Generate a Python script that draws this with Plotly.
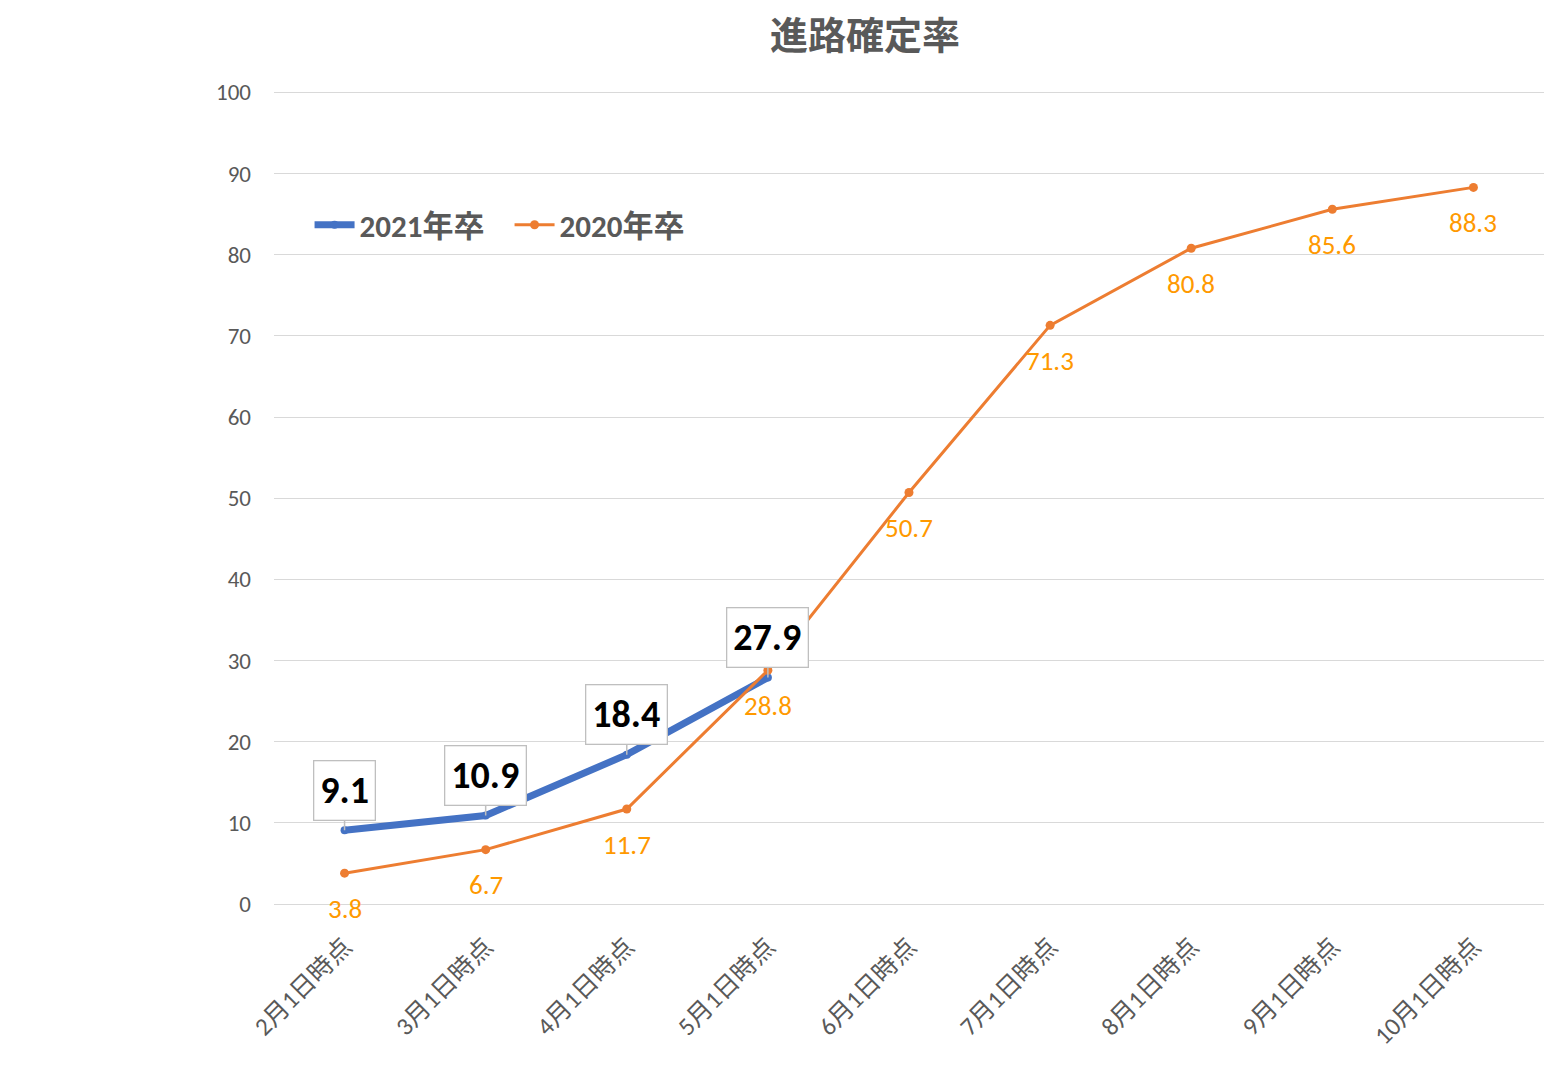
import plotly.graph_objects as go

categories = ["2月1日時点", "3月1日時点", "4月1日時点", "5月1日時点", "6月1日時点",
              "7月1日時点", "8月1日時点", "9月1日時点", "10月1日時点"]
values_2021 = [9.1, 10.9, 18.4, 27.9]
values_2020 = [3.8, 6.7, 11.7, 28.8, 50.7, 71.3, 80.8, 85.6, 88.3]
y_ticks = [0, 10, 20, 30, 40, 50, 60, 70, 80, 90, 100]

FONT = "Calibri, Carlito, Noto Sans CJK JP, sans-serif"
GRAY = "#595959"

fig = go.Figure()
fig.add_trace(go.Scatter(
    x=categories[:len(values_2021)], y=values_2021, name="2021年卒",
    mode="lines+markers",
    line=dict(color="#4472C4", width=7),
    marker=dict(color="#4472C4", size=8),
    legendrank=1,
))
fig.add_trace(go.Scatter(
    x=categories, y=values_2020, name="2020年卒",
    mode="lines+markers",
    line=dict(color="#ED7D31", width=3),
    marker=dict(color="#ED7D31", size=9),
    legendrank=2,
))

annotations = []
for c, v in zip(categories, values_2020):
    annotations.append(dict(
        x=c, y=v, xref="x", yref="y", text=f"{v:.1f}", showarrow=False,
        yshift=-35, font=dict(family=FONT, size=27, color="#FF9900"),
    ))
for c, v in zip(categories, values_2021):
    annotations.append(dict(
        x=c, y=v, xref="x", yref="y", text=f"<b>{v:.1f}</b>",
        showarrow=True, arrowhead=0, arrowwidth=1.5, arrowcolor="#BFBFBF",
        ax=0, ay=-40, standoff=0,
        bgcolor="white", bordercolor="#BFBFBF", borderwidth=1.3, borderpad=6,
        font=dict(family=FONT, size=38, color="black"),
    ))

fig.update_layout(
    width=1551, height=1057,
    margin=dict(l=266, r=15, t=82, b=161),
    paper_bgcolor="white", plot_bgcolor="white",
    title=dict(text="<b>進路確定率</b>", x=0.5525, xanchor="center", y=0.974, yanchor="middle",
               font=dict(family=FONT, size=38, color=GRAY)),
    font=dict(family=FONT, color=GRAY),
    legend=dict(orientation="h", x=0.028, xanchor="left", y=0.834, yanchor="middle",
                font=dict(family=FONT, size=31, color=GRAY), bgcolor="rgba(0,0,0,0)",
                itemwidth=40, traceorder="normal",
                entrywidth=145, entrywidthmode="pixels"),
    annotations=annotations,
    xaxis=dict(
        type="category", categoryorder="array", categoryarray=categories,
        range=[-0.5, len(categories) - 0.5],
        tickangle=-45, tickfont=dict(family=FONT, size=25, color=GRAY),
        showgrid=False, showline=False, zeroline=False, ticks="",
        ticklabelstandoff=22,
    ),
    yaxis=dict(
        range=[0, 100.3], tickvals=y_ticks, ticktext=[str(t) for t in y_ticks],
        tickfont=dict(family=FONT, size=23, color=GRAY),
        showgrid=True, gridcolor="#D9D9D9", gridwidth=1.3,
        zeroline=True, zerolinecolor="#D9D9D9", zerolinewidth=1.3,
        showline=False, ticks="", ticklabelstandoff=22,
    ),
)
fig.update_legends(font_weight="bold")

fig.write_html("out.html")
